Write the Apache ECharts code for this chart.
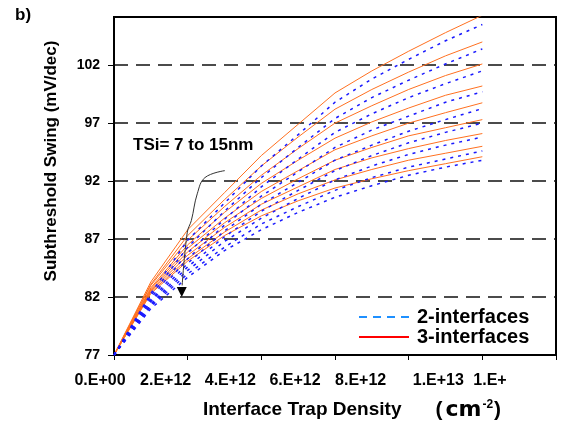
<!DOCTYPE html>
<html>
<head>
<meta charset="utf-8">
<script src="https://cdn.jsdelivr.net/npm/echarts@6/dist/echarts.min.js"></script>
<style>
  html, body { margin: 0; padding: 0; background: #fff; }
  #chart { width: 569px; height: 429px; }
</style>
</head>
<body>
<div id="chart"></div>
<script>
// Interface trap density (cm^-2)
const trapDensity = [0, 1e12, 2e12, 3e12, 4e12, 5e12, 6e12, 7e12, 8e12, 9e12, 1e13];

// Subthreshold swing (mV/dec), 3-interface model, TSi = 7 ... 15 nm
const swing3_t7  = [77, 83.3, 87.8, 91.0, 94.2, 96.9, 99.6, 101.5, 103.2, 104.8, 106.3];
const swing3_t8  = [77, 83.1, 87.3, 90.4, 93.3, 95.8, 98.2, 99.9, 101.4, 102.8, 104.0];
const swing3_t9  = [77, 83.0, 86.9, 89.8, 92.5, 94.8, 97.0, 98.5, 99.9, 101.1, 102.1];
const swing3_t10 = [77, 82.8, 86.5, 89.3, 91.8, 93.8, 95.7, 97.1, 98.3, 99.4, 100.2];
const swing3_t11 = [77, 82.7, 86.2, 88.8, 91.1, 92.9, 94.7, 95.9, 97.0, 97.9, 98.75];
const swing3_t12 = [77, 82.6, 85.9, 88.4, 90.5, 92.2, 93.8, 94.9, 95.9, 96.6, 97.3];
const swing3_t13 = [77, 82.5, 85.6, 88.0, 90.0, 91.5, 93.0, 94.0, 94.8, 95.5, 96.1];
const swing3_t14 = [77, 82.4, 85.3, 87.6, 89.5, 90.9, 92.1, 93.0, 93.8, 94.4, 95.0];
const swing3_t15 = [77, 82.3, 85.1, 87.3, 89.0, 90.3, 91.4, 92.2, 92.9, 93.5, 94.1];

// Subthreshold swing (mV/dec), 2-interface model, TSi = 7 ... 15 nm
const swing2_t7  = [77, 82.3, 86.9, 90.1, 93.3, 96.0, 98.8, 100.8, 102.5, 104.1, 105.5];
const swing2_t8  = [77, 82.1, 86.3, 89.4, 92.3, 94.9, 97.4, 99.2, 100.7, 102.1, 103.4];
const swing2_t9  = [77, 81.9, 85.8, 88.7, 91.5, 93.9, 96.2, 97.8, 99.2, 100.4, 101.5];
const swing2_t10 = [77, 81.7, 85.3, 88.2, 90.7, 92.8, 94.9, 96.4, 97.6, 98.8, 99.7];
const swing2_t11 = [77, 81.6, 84.9, 87.7, 90.0, 91.9, 93.8, 95.1, 96.3, 97.3, 98.25];
const swing2_t12 = [77, 81.4, 84.6, 87.2, 89.4, 91.2, 92.9, 94.2, 95.3, 96.2, 97.0];
const swing2_t13 = [77, 81.3, 84.3, 86.8, 88.8, 90.5, 92.1, 93.3, 94.3, 95.1, 95.8];
const swing2_t14 = [77, 81.2, 84.0, 86.3, 88.3, 89.8, 91.2, 92.3, 93.2, 93.9, 94.6];
const swing2_t15 = [77, 81.0, 83.7, 86.0, 87.8, 89.3, 90.6, 91.6, 92.5, 93.2, 93.8];

// Axis tick labels
const xTickLabels = ['0.E+00', '2.E+12', '4.E+12', '6.E+12', '8.E+12', '1.E+13', '1.E+'];
const xLabelShift = [14, 22, 31, 40, 48, 44, 66];
const yTicks = [77, 82, 87, 92, 97, 102];

// Annotation arrow path, in data coordinates
const arrowPath = [[3.01e12, 92.9], [2.47e12, 92.3], [2.26e12, 90.9], [2.1e12, 88.6], [1.99e12, 87.6], [1.85e12, 83.0]];
const arrowTip = [1.84e12, 82.0];

const FONT = '"Liberation Sans", Arial, sans-serif';

const curves3 = [swing3_t7, swing3_t8, swing3_t9, swing3_t10, swing3_t11, swing3_t12, swing3_t13, swing3_t14, swing3_t15];
const curves2 = [swing2_t7, swing2_t8, swing2_t9, swing2_t10, swing2_t11, swing2_t12, swing2_t13, swing2_t14, swing2_t15];

const pair = (ys) => trapDensity.map((x, i) => [x, ys[i]]);

const series = [];
curves3.forEach((ys) => series.push({
  name: '3-interfaces', type: 'line', data: pair(ys), symbol: 'none', smooth: false,
  lineStyle: { color: '#FF7020', width: 1 }, itemStyle: { color: '#FF7020' }, z: 2
}));
curves2.forEach((ys) => series.push({
  name: '2-interfaces', type: 'line', data: pair(ys), symbol: 'none', smooth: false,
  lineStyle: { color: '#1A1AFF', width: 1.5, type: [3, 5] }, itemStyle: { color: '#1A1AFF' }, z: 3
}));

const xRich = {};
xLabelShift.forEach((d, i) => {
  xRich['l' + i] = { fontFamily: FONT, fontWeight: 'bold', fontSize: 16, color: '#000', padding: [0, 2 * d, 0, 0] };
});

const chart = echarts.init(document.getElementById('chart'));
chart.setOption({
  animation: false,
  backgroundColor: '#fff',
  grid: { left: 114, right: 13, top: 17, bottom: 74, show: true, borderColor: '#000', borderWidth: 2, backgroundColor: 'transparent' },
  xAxis: {
    type: 'value', min: 0, max: 1.2e13, interval: 2e12,
    axisLine: { show: true, onZero: false, lineStyle: { color: '#000', width: 2 } },
    axisTick: { show: true, length: 5, lineStyle: { color: '#000', width: 1 } },
    splitLine: { show: false },
    axisLabel: {
      margin: 18,
      formatter: (v) => { const i = Math.round(v / 2e12); return '{l' + i + '|' + xTickLabels[i] + '}'; },
      rich: xRich
    },
    name: '{a|Interface Trap Density}{b|(}{c|cm}{s|-2}{b|)}',
    nameLocation: 'middle', nameGap: 44,
    nameTextStyle: {
      padding: [0, 0, 0, 34],
      rich: {
        a: { fontFamily: FONT, fontWeight: 'bold', fontSize: 19, color: '#000', padding: [0, 34, 0, 0] },
        b: { fontFamily: FONT, fontWeight: 'bold', fontSize: 21, color: '#000' },
        c: { fontFamily: '"DejaVu Sans", sans-serif', fontWeight: 'bold', fontSize: 22, color: '#000', padding: [0, 1, 0, 3] },
        s: { fontFamily: FONT, fontWeight: 'bold', fontSize: 12, color: '#000', verticalAlign: 'top', padding: [0, 1, 10, 0] }
      }
    }
  },
  yAxis: {
    type: 'value', min: 77, max: 106.15, interval: 5,
    axisLine: { show: true, onZero: false, lineStyle: { color: '#000', width: 2 } },
    axisTick: { show: true, length: 6, customValues: yTicks, lineStyle: { color: '#000', width: 1 } },
    axisLabel: { customValues: yTicks, margin: 14, fontFamily: FONT, fontWeight: 'bold', fontSize: 14, color: '#000' },
    splitLine: { show: true, showMinLine: false, lineStyle: { color: '#111', width: 1.5, type: [14, 8] } },
    name: 'Subthreshold Swing (mV/dec)',
    nameLocation: 'middle', nameGap: 54,
    nameTextStyle: { fontFamily: FONT, fontWeight: 'bold', fontSize: 17, color: '#000', padding: [0, 0, 0, 50] }
  },
  legend: {
    orient: 'vertical', left: 353, top: 302, itemGap: 0, itemWidth: 50, itemHeight: 12,
    textStyle: { fontFamily: FONT, fontWeight: 'bold', fontSize: 20, color: '#000', lineHeight: 19, padding: [0, 0, 0, 3] },
    data: [
      { name: '2-interfaces', itemStyle: { opacity: 0 }, lineStyle: { color: '#1E90FF', width: 2, type: [8, 6] } },
      { name: '3-interfaces', itemStyle: { opacity: 0 }, lineStyle: { color: '#FF0000', width: 2, type: 'solid' } }
    ]
  },
  series: series
});

// Panel label, annotation text and the arrow pointing across the thickness sweep
const pts = arrowPath.map((p) => chart.convertToPixel({ gridIndex: 0 }, p));
const tip = chart.convertToPixel({ gridIndex: 0 }, arrowTip);
chart.setOption({
  graphic: [
    { type: 'text', left: 15, top: 7, style: { text: 'b)', font: 'bold 17px ' + FONT, fill: '#000' } },
    { type: 'text', left: 133, top: 137, style: { text: 'TSi= 7 to 15nm', font: 'bold 17px ' + FONT, fill: '#000' } },
    { type: 'polyline', shape: { points: pts, smooth: 0.4 }, style: { stroke: '#333', lineWidth: 1, fill: null }, z: 10 },
    { type: 'polygon', shape: { points: [[tip[0] - 5, tip[1] - 10], [tip[0] + 5, tip[1] - 10], [tip[0], tip[1]]] }, style: { fill: '#000' }, z: 10 }
  ]
});
</script>
</body>
</html>
